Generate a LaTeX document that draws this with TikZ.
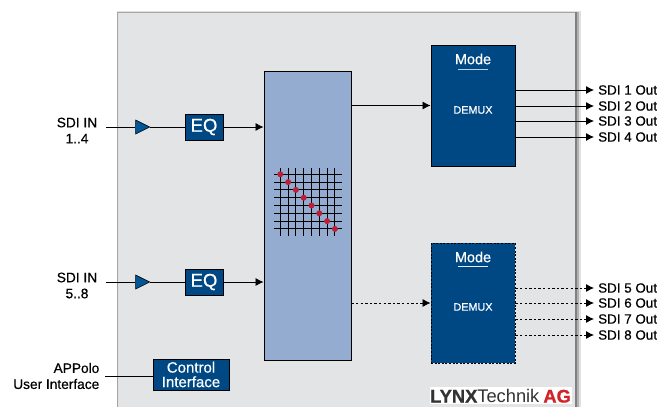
\documentclass[tikz,border=0pt]{standalone}
\usepackage{fontspec}
\setmainfont{Liberation Sans}
\newfontfamily\medfont{Liberation Sans}[FakeBold=0.5]
\newfontfamily\heavyfont{Liberation Sans Bold}[FakeBold=1]
\usetikzlibrary{arrows.meta,shapes.geometric,calc}
\definecolor{blockblue}{RGB}{0,72,132}
\definecolor{triblue}{RGB}{0,86,150}
\definecolor{xbarblue}{RGB}{148,172,208}
\definecolor{panelgray}{RGB}{227,228,230}
\definecolor{dotred}{RGB}{190,30,55}
\definecolor{lynxred}{RGB}{210,35,40}
\def\GridStep{7.8}
\def\GridX{280.3}
\def\GridY{174.3}
\tikzset{
  block/.style={draw=black, fill=blockblue, text=white, inner sep=0pt, line width=0.9pt, align=center},
  link/.style={draw=black, line width=0.8pt},
  linktip/.style={link, -{Latex[length=8pt,width=8pt]}},
  dashlink/.style={linktip, dash pattern=on 2.4pt off 2.2pt},
  outlabel/.style={anchor=west, inner sep=4pt, font=\medfont\fontsize{13.4}{14}\selectfont},
  inlabel/.style={align=center, inner sep=0pt, font=\medfont\fontsize{13.7}{16}\selectfont},
  amp/.style={isosceles triangle, isosceles triangle stretches, shape border rotate=0, draw=black, fill=triblue, line width=0.6pt, minimum width=14pt, minimum height=14pt, inner sep=0pt}
}
\begin{document}
\begin{tikzpicture}[x=1pt,y=-1pt]
\useasboundingbox (0,0) rectangle (658,407);
\fill[white] (0,0) rectangle (658,407);

% panel
\fill[black!12] (117,11) rectangle (581,407);
\fill[black!30] (575,12) rectangle (579,407);
\fill[black!50] (575,12) rectangle (577,407);
\fill[panelgray] (118.5,13) rectangle (575,407);
\draw[black!35, line width=1pt] (117.5,407) -- (117.5,12) -- (575,12);

% main blocks
\node[block, fill=xbarblue, minimum width=87pt, minimum height=289pt] (xbar) at (307.5,215.5) {};
\node[block, minimum width=84pt, minimum height=121pt] (demuxa) at (473,105.5) {};
\node[block, dash pattern=on 2pt off 1.6pt, minimum width=84pt, minimum height=120pt] (demuxb) at (473,303) {};
\node[block, font=\medfont\fontsize{18.5}{19}\selectfont, minimum width=38pt, minimum height=26pt] (eqa) at (204,127) {EQ};
\node[block, font=\medfont\fontsize{18.5}{19}\selectfont, minimum width=38pt, minimum height=26pt] (eqb) at (204,282) {EQ};
\node[block, font=\medfont\fontsize{15}{14.5}\selectfont, minimum width=76pt, minimum height=31pt] (ctrl) at (191,374.5) {Control\\Interface};

% demux texts
\node[text=white, inner sep=0pt, font=\medfont\fontsize{14.5}{15}\selectfont] (modea) at (473,59) {Mode};
\node[text=white, inner sep=0pt, font=\medfont\fontsize{10.8}{11}\selectfont] (muxa) at (473,110) {DEMUX};
\node[text=white, inner sep=0pt, font=\medfont\fontsize{14.5}{15}\selectfont] (modeb) at (473,257) {Mode};
\node[text=white, inner sep=0pt, font=\medfont\fontsize{10.8}{11}\selectfont] (muxb) at (473,307) {DEMUX};
\draw[white!75!blockblue, line width=0.8pt] (458,69) -- (488,69);
\draw[white!90!blockblue, line width=0.8pt] (458,266.5) -- (488,266.5);

% inputs
\node[inlabel] (ina) at (77,130.5) {SDI IN\\1..4};
\node[inlabel] (inb) at (77,285.5) {SDI IN\\5..8};
\node[inlabel, align=right, anchor=east] (app) at (99.5,376) {APPolo\\User Interface};
\node[amp] (ampa) at (140,127) {};
\node[amp] (ampb) at (140,282) {};
\coordinate (starta) at (106,127);
\coordinate (startb) at (106,282);
\coordinate (startc) at (105,376);

\draw[link] (starta) -- (ampa.west);
\draw[link] (startb) -- (ampb.west);
\draw[link] (ampa.east) -- (eqa);
\draw[link] (ampb.east) -- (eqb);
\draw[linktip] (eqa) -- (xbar.west |- eqa);
\draw[linktip] (eqb) -- (xbar.west |- eqb);
\draw[link] (startc) -- (ctrl.west |- startc);

% crossbar to demux
\draw[linktip] (xbar.east |- demuxa) -- (demuxa);
\draw[dashlink] (xbar.east |- demuxb) -- (demuxb);

% outputs
\foreach \n/\y in {1/90,2/106,3/121,4/137} {
  \node[outlabel] (out\n) at (594,\y) {SDI \n\ Out};
  \draw[linktip] (demuxa.east |- out\n) -- (out\n);
}
\foreach \n/\y in {5/288,6/303,7/319,8/335} {
  \node[outlabel] (out\n) at (594,\y) {SDI \n\ Out};
  \draw[dashlink] (demuxb.east |- out\n) -- (out\n);
}

% matrix
\foreach \i in {0,...,7} {
  \draw[black, line width=0.9pt] (\GridX+\i*\GridStep,168) -- (\GridX+\i*\GridStep,236);
  \draw[black, line width=0.9pt] (274,\GridY+\i*\GridStep) -- (342,\GridY+\i*\GridStep);
}
\foreach \i in {0,...,7} {
  \fill[dotred] (\GridX+\i*\GridStep,\GridY+\i*\GridStep) circle (3);
}

% logo
\fill[white] (430,387) rectangle (572,404);
\node[anchor=west, inner sep=0pt, font=\fontsize{18.3}{20}\selectfont] (logo) at (430,396) {\textcolor{black!80}{{\heavyfont LYNX}Technik}\kern4pt\textcolor{lynxred}{{\heavyfont AG}}};
\end{tikzpicture}
\end{document}
